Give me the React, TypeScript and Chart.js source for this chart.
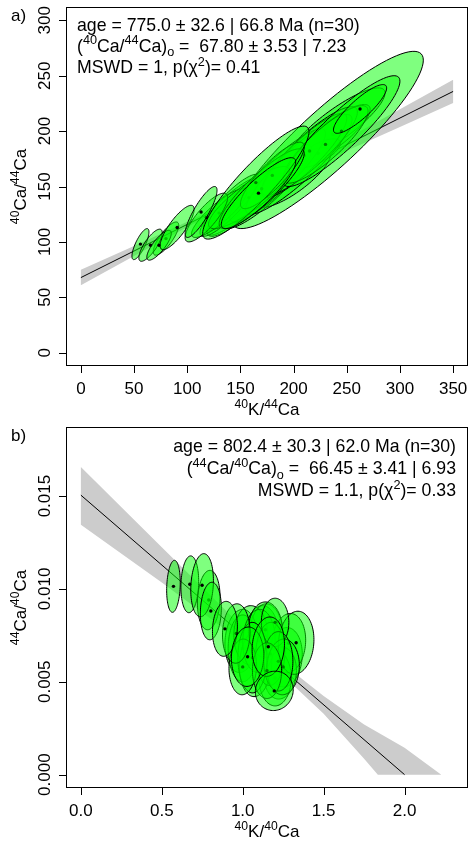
import React, { useEffect, useRef } from "react";
import { Chart, registerables } from "chart.js";
Chart.register(...registerables);

// ---------- Panel a) 40K/44Ca vs 40Ca/44Ca ----------
const aX = [232, 241, 237, 150, 153, 199, 223, 145, 175, 185, 205, 210, 215, 230, 245, 140, 130, 158, 170, 180, 118, 164.5, 167, 80, 56, 65.5, 73.5, 90.5, 113, 262.5];
const aXErr = [90, 45, 35, 32, 34, 36, 21, 30, 42, 45, 50, 40, 45, 40, 55, 28, 26, 38, 40, 30, 20, 50, 35, 12, 8, 11, 11.5, 16, 15, 25];
const aY = [192, 206, 197, 134, 135, 158, 180, 135, 150, 160, 170, 178, 182, 188, 200, 133, 126, 140, 148, 160, 122, 153.5, 144, 103, 98, 97, 97, 113, 127, 220];
const aYErr = [80, 33, 27, 28, 30, 27, 13, 25, 38, 42, 45, 38, 40, 35, 50, 28, 22, 28, 36, 30, 22, 51, 32, 15, 14, 14.5, 13.5, 20, 23, 22];
const aRho = [0.9, 0.86, 0.84, 0.88, 0.88, 0.8, 0.7, 0.86, 0.88, 0.9, 0.9, 0.88, 0.88, 0.86, 0.9, 0.88, 0.86, 0.86, 0.88, 0.86, 0.82, 0.9, 0.88, 0.8, 0.78, 0.78, 0.8, 0.82, 0.85, 0.86];
const aLineX = [0, 350];
const aLineY = [67.8, 235.8];
const aBandX = [0, 50, 100, 150, 200, 250, 300, 350];
const aBandUpper = [74.8, 96.3, 118.1, 141.3, 167.0, 193.4, 219.8, 246.3];
const aBandLower = [60.8, 87.3, 113.5, 138.3, 160.6, 182.2, 203.8, 225.3];
const aXTicks = [0, 50, 100, 150, 200, 250, 300, 350];
const aXTickLabels = ["0", "50", "100", "150", "200", "250", "300", "350"];
const aYTicks = [0, 50, 100, 150, 200, 250, 300];
const aYTickLabels = ["0", "50", "100", "150", "200", "250", "300"];
const aXRange = [-14, 364];
const aYRange = [-12, 312];

// ---------- Panel b) 40K/40Ca vs 44Ca/40Ca ----------
const bX = [0.79, 1.117, 1.146, 1.263, 1.284, 1.232, 1.2, 0.99, 1.0, 1.05, 1.08, 1.1, 1.14, 1.17, 1.33, 1.2, 1.25, 1.06, 1.0, 0.96, 1.22, 1.15, 0.572, 0.673, 0.749, 0.803, 0.89, 1.03, 1.158, 1.195];
const bXErr = [0.07, 0.105, 0.105, 0.105, 0.105, 0.1, 0.1, 0.1, 0.09, 0.105, 0.1, 0.1, 0.105, 0.09, 0.11, 0.085, 0.1, 0.09, 0.085, 0.085, 0.09, 0.09, 0.042, 0.055, 0.07, 0.065, 0.077, 0.1, 0.1, 0.117];
const bY = [0.0094, 0.0074, 0.0074, 0.00632, 0.00708, 0.00547, 0.0052, 0.0072, 0.0068, 0.0075, 0.006, 0.0072, 0.0078, 0.0065, 0.0071, 0.0082, 0.0058, 0.0063, 0.0058, 0.0076, 0.0061, 0.0056, 0.01014, 0.01025, 0.0102, 0.00881, 0.00785, 0.00635, 0.00689, 0.00451];
const bYErr = [0.0016, 0.0017, 0.0018, 0.0016, 0.0016, 0.0014, 0.0015, 0.0017, 0.0018, 0.0016, 0.0018, 0.0017, 0.0015, 0.0017, 0.0017, 0.0013, 0.0015, 0.0019, 0.0015, 0.0016, 0.0016, 0.0015, 0.0014, 0.00153, 0.0017, 0.00155, 0.00148, 0.0016, 0.0016, 0.00106];
const bRho = [0.1, 0.05, 0, 0.1, 0.1, 0.1, 0, 0.1, 0, 0, 0.1, 0.05, 0, 0.05, 0.1, 0, 0.05, 0, 0.05, 0.05, 0, 0, 0.15, 0.1, 0.15, 0.1, 0.1, 0.05, 0.1, 0.05];
const bLineX = [0, 2.0];
const bLineY = [0.01505, 0];
const bBandUpperX = [0, 0.5, 1.0, 1.25, 1.5, 1.75, 2.0, 2.227];
const bBandUpperY = [0.01657, 0.01224, 0.00794, 0.00596, 0.00424, 0.0027, 0.00145, 0];
const bBandLowerX = [0, 0.5, 1.0, 1.25, 1.5, 1.75, 1.835];
const bBandLowerY = [0.01345, 0.01034, 0.00712, 0.00532, 0.00328, 0.00085, 0];
const bXTicks = [0, 0.5, 1.0, 1.5, 2.0];
const bXTickLabels = ["0.0", "0.5", "1.0", "1.5", "2.0"];
const bYTicks = [0, 0.005, 0.01, 0.015];
const bYTickLabels = ["0.000", "0.005", "0.010", "0.015"];
const bXRange = [-0.092, 2.392];
const bYRange = [-0.00072, 0.01872];

// ---------- Texts (segments: 0 normal, 1 superscript, 2 subscript) ----------
type Seg = [string, number];
const aXTitle: Seg[] = [["40", 1], ["K/", 0], ["44", 1], ["Ca", 0]];
const aYTitle: Seg[] = [["40", 1], ["Ca/", 0], ["44", 1], ["Ca", 0]];
const bXTitle: Seg[] = [["40", 1], ["K/", 0], ["40", 1], ["Ca", 0]];
const bYTitle: Seg[] = [["44", 1], ["Ca/", 0], ["40", 1], ["Ca", 0]];
const aInfo: Seg[][] = [
  [["age = 775.0 \u00b1 32.6 | 66.8 Ma (n=30)", 0]],
  [["(", 0], ["40", 1], ["Ca/", 0], ["44", 1], ["Ca)", 0], ["o", 2], [" =  67.80 \u00b1 3.53 | 7.23", 0]],
  [["MSWD = 1, p(\u03c7", 0], ["2", 1], [")= 0.41", 0]],
];
const bInfo: Seg[][] = [
  [["age = 802.4 \u00b1 30.3 | 62.0 Ma (n=30)", 0]],
  [["(", 0], ["44", 1], ["Ca/", 0], ["40", 1], ["Ca)", 0], ["o", 2], [" =  66.45 \u00b1 3.41 | 6.93", 0]],
  [["MSWD = 1.1, p(\u03c7", 0], ["2", 1], [")= 0.33", 0]],
];

const FONT = '"Liberation Sans", Arial, Helvetica, sans-serif';
const FS = 17;
const INFO_FS = 17.7;

function segFont(k: number, size: number) {
  return `${k ? (size * 0.72).toFixed(1) : size}px ${FONT}`;
}
function richWidth(ctx: CanvasRenderingContext2D, segs: Seg[], size: number) {
  let w = 0;
  for (const [t, k] of segs) {
    ctx.font = segFont(k, size);
    w += ctx.measureText(t).width;
  }
  return w;
}
function drawRich(ctx: CanvasRenderingContext2D, segs: Seg[], x: number, y: number, align: string, size: number = FS) {
  const w = richWidth(ctx, segs, size);
  let cx = align === "left" ? x : align === "right" ? x - w : x - w / 2;
  ctx.textAlign = "left";
  ctx.textBaseline = "alphabetic";
  ctx.fillStyle = "#000";
  for (const [t, k] of segs) {
    ctx.font = segFont(k, size);
    const dy = k === 1 ? -size * 0.42 : k === 2 ? size * 0.28 : 0;
    ctx.fillText(t, cx, y + dy);
    cx += ctx.measureText(t).width;
  }
}

interface Panel {
  letter: string;
  xs: number[]; xe: number[]; ys: number[]; ye: number[]; rho: number[];
  lineX: number[]; lineY: number[];
  bandPoly: { x: number; y: number }[];
  xTicks: number[]; xTickLabels: string[]; yTicks: number[]; yTickLabels: string[];
  xRange: number[]; yRange: number[];
  xTitle: Seg[]; yTitle: Seg[];
  info: Seg[][]; infoAlign: string; infoX: number; infoY: number[];
}

const panelA: Panel = {
  letter: "a)",
  xs: aX, xe: aXErr, ys: aY, ye: aYErr, rho: aRho,
  lineX: aLineX, lineY: aLineY,
  bandPoly: [
    ...aBandX.map((x, i) => ({ x, y: aBandUpper[i] })),
    ...aBandX.map((x, i) => ({ x, y: aBandLower[i] })).reverse(),
  ],
  xTicks: aXTicks, xTickLabels: aXTickLabels, yTicks: aYTicks, yTickLabels: aYTickLabels,
  xRange: aXRange, yRange: aYRange,
  xTitle: aXTitle, yTitle: aYTitle,
  info: aInfo, infoAlign: "left", infoX: 77, infoY: [30.5, 51.5, 73],
};

const panelB: Panel = {
  letter: "b)",
  xs: bX, xe: bXErr, ys: bY, ye: bYErr, rho: bRho,
  lineX: bLineX, lineY: bLineY,
  bandPoly: [
    ...bBandUpperX.map((x, i) => ({ x, y: bBandUpperY[i] })),
    ...bBandLowerX.map((x, i) => ({ x, y: bBandLowerY[i] })).reverse(),
  ],
  xTicks: bXTicks, xTickLabels: bXTickLabels, yTicks: bYTicks, yTickLabels: bYTickLabels,
  xRange: bXRange, yRange: bYRange,
  xTitle: bXTitle, yTitle: bYTitle,
  info: bInfo, infoAlign: "right", infoX: 456, infoY: [32, 54, 76],
};

function makePlugin(p: Panel) {
  return {
    id: "isoPanel" + p.letter,
    afterDatasetsDraw(chart: any) {
      const { ctx, chartArea } = chart;
      const sx = chart.scales.x;
      const sy = chart.scales.y;
      ctx.save();
      ctx.beginPath();
      ctx.rect(chartArea.left, chartArea.top, chartArea.right - chartArea.left, chartArea.bottom - chartArea.top);
      ctx.clip();
      const N = 90;
      for (let i = 0; i < p.xs.length; i++) {
        const r = p.rho[i];
        const s = Math.sqrt(1 - r * r);
        ctx.beginPath();
        for (let k = 0; k <= N; k++) {
          const t = (2 * Math.PI * k) / N;
          const dx = p.xe[i] * Math.cos(t);
          const dy = p.ye[i] * (r * Math.cos(t) + s * Math.sin(t));
          const px = sx.getPixelForValue(p.xs[i] + dx);
          const py = sy.getPixelForValue(p.ys[i] + dy);
          if (k === 0) ctx.moveTo(px, py);
          else ctx.lineTo(px, py);
        }
        ctx.closePath();
        ctx.fillStyle = "rgba(0,255,0,0.5)";
        ctx.fill();
        ctx.strokeStyle = "#000";
        ctx.lineWidth = 1;
        ctx.stroke();
        ctx.beginPath();
        ctx.arc(sx.getPixelForValue(p.xs[i]), sy.getPixelForValue(p.ys[i]), 1.7, 0, 2 * Math.PI);
        ctx.fillStyle = "#000";
        ctx.fill();
      }
      ctx.restore();
    },
    afterDraw(chart: any) {
      const { ctx, chartArea } = chart;
      const sx = chart.scales.x;
      const sy = chart.scales.y;
      const { left, right, top, bottom } = chartArea;
      ctx.save();
      ctx.strokeStyle = "#000";
      ctx.lineWidth = 1;
      ctx.strokeRect(left + 0.5, top + 0.5, right - left - 1, bottom - top - 1);
      ctx.beginPath();
      p.xTicks.forEach((v) => {
        const px = Math.round(sx.getPixelForValue(v)) + 0.5;
        ctx.moveTo(px, bottom);
        ctx.lineTo(px, bottom + 7);
      });
      p.yTicks.forEach((v) => {
        const py = Math.round(sy.getPixelForValue(v)) + 0.5;
        ctx.moveTo(left, py);
        ctx.lineTo(left - 7, py);
      });
      ctx.stroke();
      ctx.fillStyle = "#000";
      ctx.font = `${FS}px ${FONT}`;
      ctx.textAlign = "center";
      ctx.textBaseline = "alphabetic";
      p.xTicks.forEach((v, i) => {
        ctx.fillText(p.xTickLabels[i], sx.getPixelForValue(v), bottom + 22 + FS * 0.36);
      });
      p.yTicks.forEach((v, i) => {
        ctx.save();
        ctx.translate(left - 22.5, sy.getPixelForValue(v));
        ctx.rotate(-Math.PI / 2);
        ctx.font = `${FS}px ${FONT}`;
        ctx.textAlign = "center";
        ctx.fillText(p.yTickLabels[i], 0, FS * 0.36);
        ctx.restore();
      });
      drawRich(ctx, p.xTitle, (left + right) / 2, bottom + 43 + FS * 0.36, "center");
      ctx.save();
      ctx.translate(20, (top + bottom) / 2);
      ctx.rotate(-Math.PI / 2);
      drawRich(ctx, p.yTitle, 0, FS * 0.36, "center");
      ctx.restore();
      ctx.font = `${FS}px ${FONT}`;
      ctx.textAlign = "left";
      ctx.fillStyle = "#000";
      ctx.fillText(p.letter, 11, 21);
      p.info.forEach((segs, i) => drawRich(ctx, segs, p.infoX, p.infoY[i], p.infoAlign, INFO_FS));
      ctx.restore();
    },
  };
}

function makeConfig(p: Panel): any {
  return {
    type: "line",
    data: {
      datasets: [
        {
          data: p.lineX.map((x, i) => ({ x, y: p.lineY[i] })),
          borderColor: "#000",
          borderWidth: 1,
          pointRadius: 0,
          fill: false,
          tension: 0,
        },
        {
          data: p.bandPoly,
          borderColor: "rgba(0,0,0,0)",
          borderWidth: 0,
          backgroundColor: "#cccccc",
          pointRadius: 0,
          fill: "shape",
          tension: 0,
        },
      ],
    },
    options: {
      responsive: false,
      maintainAspectRatio: false,
      animation: false,
      events: [],
      layout: { padding: { left: 66, right: 3, top: 7, bottom: 54 } },
      plugins: { legend: { display: false }, tooltip: { enabled: false } },
      scales: {
        x: { type: "linear", min: p.xRange[0], max: p.xRange[1], display: false },
        y: { type: "linear", min: p.yRange[0], max: p.yRange[1], display: false },
      },
    },
    plugins: [makePlugin(p)],
  };
}

export default function App() {
  const refA = useRef<HTMLCanvasElement>(null);
  const refB = useRef<HTMLCanvasElement>(null);
  useEffect(() => {
    const ca = new Chart(refA.current as HTMLCanvasElement, makeConfig(panelA));
    const cb = new Chart(refB.current as HTMLCanvasElement, makeConfig(panelB));
    return () => {
      ca.destroy();
      cb.destroy();
    };
  }, []);
  return (
    <div style={{ position: "absolute", left: 0, top: 0, width: 471, height: 842, background: "#fff" }}>
      <canvas ref={refA} width={471} height={420} style={{ position: "absolute", left: 0, top: 0 }} />
      <canvas ref={refB} width={471} height={422} style={{ position: "absolute", left: 0, top: 420 }} />
    </div>
  );
}
